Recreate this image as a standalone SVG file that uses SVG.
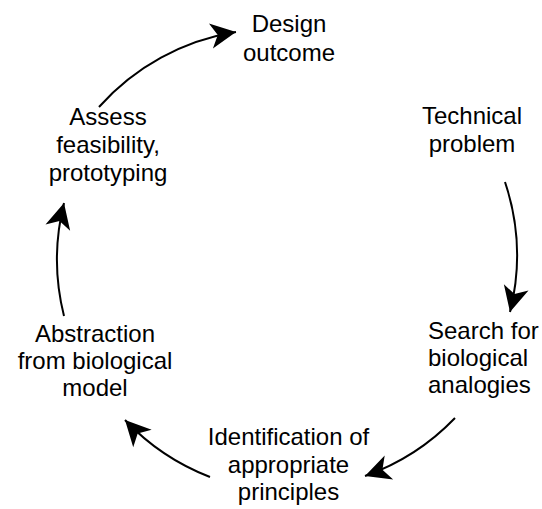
<svg xmlns="http://www.w3.org/2000/svg" width="542" height="509" viewBox="0 0 542 509">
<style>
  text { font-family: "Liberation Sans", Arial, Helvetica, sans-serif; font-size: 24px; fill: #000; }
  .c { text-anchor: middle; }
  .l { text-anchor: start; }
  .edge { fill: none; stroke: #000; stroke-width: 2; marker-end: url(#ah); }
</style>
<defs>
  <marker id="ah" markerUnits="userSpaceOnUse" markerWidth="30" markerHeight="30" viewBox="-24 -12 26 24" refX="0" refY="0" orient="auto">
    <path d="M0,0 L-22,-11 L-16,0 L-22,11 Z" fill="#000"/>
  </marker>
</defs>
<rect width="542" height="509" fill="#fff"/>
<g id="connectors">
  <path class="edge" d="M99,107 A232,232 0 0 1 236,32"/>
  <path class="edge" d="M505,182 A232,232 0 0 1 510,312"/>
  <path class="edge" d="M455,418 A232,232 0 0 1 365,476"/>
  <path class="edge" d="M210,477 A232,232 0 0 1 125,420"/>
  <path class="edge" d="M64,316 A232,232 0 0 1 64,203"/>
</g>
<g id="design-outcome">
  <text class="c" x="289" y="32">Design</text>
  <text class="c" x="289" y="60.5">outcome</text>
</g>
<g id="technical-problem">
  <text class="c" x="472" y="123.5">Technical</text>
  <text class="c" x="472" y="151.5">problem</text>
</g>
<g id="search-analogies">
  <text class="l" x="428" y="338.5">Search for</text>
  <text class="l" x="428" y="366">biological</text>
  <text class="l" x="428" y="393">analogies</text>
</g>
<g id="identification-principles">
  <text class="c" x="288.5" y="445">Identification of</text>
  <text class="c" x="288.5" y="473">appropriate</text>
  <text class="c" x="288.5" y="500">principles</text>
</g>
<g id="abstraction-model">
  <text class="c" x="95" y="341.5">Abstraction</text>
  <text class="c" x="95" y="369">from biological</text>
  <text class="c" x="95" y="396">model</text>
</g>
<g id="assess-feasibility">
  <text class="c" x="108" y="124.5">Assess</text>
  <text class="c" x="108" y="153">feasibility,</text>
  <text class="c" x="108" y="180.5">prototyping</text>
</g>
</svg>
